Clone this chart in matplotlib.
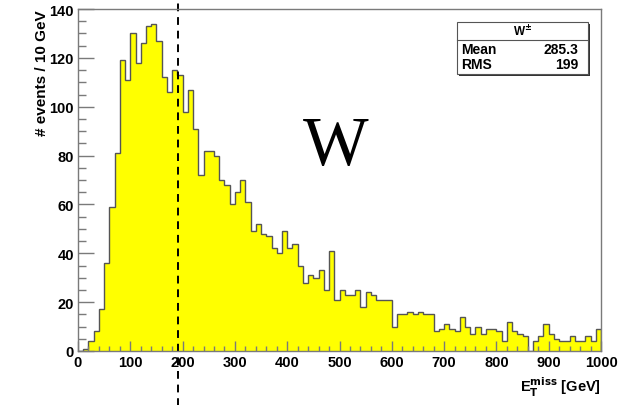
"""
Missing ET distribution for W events (ROOT-style histogram)
"""
import matplotlib.pyplot as plt
from matplotlib.patches import Rectangle
from matplotlib.lines import Line2D

# bin edges in GeV, 10 GeV bins
edges = list(range(0, 1010, 10))

# events per 10 GeV bin
counts = [0, 1, 4, 8, 17, 36, 59, 81, 119, 111,
          130, 118, 126, 133, 134, 127, 112, 106, 115, 113,
          98, 107, 91, 72, 82, 82, 80, 70, 68, 60,
          65, 70, 61, 49, 52, 48, 47, 42, 40, 49,
          42, 44, 35, 28, 31, 30, 33, 25, 41, 21,
          25, 23, 23, 25, 18, 24, 23, 21, 21, 21,
          10, 15, 15, 16, 15, 16, 15, 15, 8, 9,
          11, 9, 8, 14, 10, 7, 10, 7, 9, 9,
          8, 4, 12, 8, 7, 6, 0, 4, 6, 11,
          7, 5, 4, 4, 6, 4, 4, 6, 4, 9]

cut = 191  # dashed cut line, GeV
stats_title = 'W$^{\\pm}$'
stats_rows = [('Mean', '285.3'), ('RMS', '199')]

plt.rcParams['font.family'] = ['Liberation Sans', 'DejaVu Sans']
plt.rcParams['font.weight'] = 'bold'

fig = plt.figure(figsize=(6.32, 4.06), dpi=100)
ax = fig.add_axes([78 / 632, 54 / 406, 523 / 632, 342 / 406])

grey = '#7a7a7a'
ax.stairs(counts, edges, fill=True, color='#ffff00')
ax.stairs(counts, edges, color='#555555', lw=1.0)

ax.set_xlim(0, 1000)
ax.set_ylim(0, 140)
ax.set_xticks(range(0, 1001, 100))
ax.set_xticks(range(0, 1001, 20), minor=True)
ax.set_yticks(range(0, 141, 20))
ax.set_yticks(range(0, 141, 5), minor=True)

for s in ax.spines.values():
    s.set_color(grey)
    s.set_linewidth(1.0)

ax.tick_params(which='both', direction='in', color=grey, width=1.0,
               labelsize=10.5)
ax.tick_params(axis='x', which='major', length=7, pad=3)
ax.tick_params(axis='x', which='minor', length=3.5)
ax.tick_params(axis='y', which='major', length=11.5, pad=3)
ax.tick_params(axis='y', which='minor', length=5.5)

ax.set_ylabel('# events / 10 GeV', loc='top', fontsize=11,
              fontweight='bold', labelpad=0)
ax.set_xlabel(r'E$_{\mathbf{T}}^{\mathbf{miss}}$ [GeV]', loc='right',
              fontsize=10.5, fontweight='bold', labelpad=4)

# cut line runs across the whole figure height
ax.axvline(cut, ymin=-0.16, ymax=1.03, color='black', lw=1.4,
           ls=(0, (4, 3)), clip_on=False)

# big W label
ax.text(0.493, 0.547, 'W', transform=ax.transAxes, fontsize=50,
        family='Liberation Serif', fontweight='normal',
        ha='center', va='baseline')

# stats box
x0, x1 = 457 / 632, 588 / 632
y0, y1 = 1 - 75 / 406, 1 - 23 / 406
fig.patches.append(Rectangle((x0 + 0.003, y0 - 0.005), x1 - x0, y1 - y0,
                             transform=fig.transFigure, facecolor='#333333',
                             edgecolor='none'))
fig.patches.append(Rectangle((x0, y0), x1 - x0, y1 - y0,
                             transform=fig.transFigure, facecolor='white',
                             edgecolor='#555555', lw=0.8))
ysep = 1 - 41 / 406
fig.lines.append(Line2D([x0, x1], [ysep, ysep], transform=fig.transFigure,
                        color='#555555', lw=0.8))
fig.text((x0 + x1) / 2, 1 - 32 / 406, stats_title, ha='center', va='center',
         fontsize=8.5)
for i, (name, val) in enumerate(stats_rows):
    yy = 1 - (50 + 15 * i) / 406
    fig.text(x0 + 0.007, yy, name, ha='left', va='center', fontsize=10)
    fig.text(x1 - 0.015, yy, val, ha='right', va='center', fontsize=10)

plt.savefig('out.png', dpi=100)
